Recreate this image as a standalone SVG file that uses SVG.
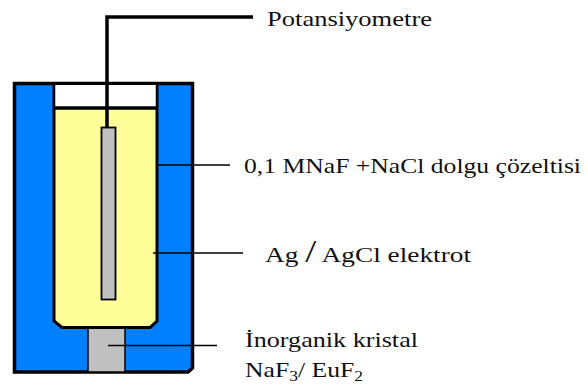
<svg xmlns="http://www.w3.org/2000/svg" width="588" height="387" viewBox="0 0 588 387">
<style>
text{font-family:"Liberation Serif","Times New Roman",serif;font-size:22px;fill:#111}
.s{stroke:#000;fill:none}
</style>
<rect width="588" height="387" fill="#fff"/>
<g id="outer-vessel"><path d="M14.500 83.500H192.500V368L188 372H14.500Z" fill="#0080ff" stroke="#000" stroke-width="3.500"/></g>
<g id="crystal"><rect x="88" y="327" width="37" height="45" fill="#c0c0c0" stroke="#000" stroke-width="1.500"/></g>
<g id="inner-tube">
<path d="M54 83.500V321L62 327.500H150L157 321V83.500Z" fill="#ffff99" stroke="#000" stroke-width="3"/>
<rect x="55.500" y="85" width="100" height="23" fill="#fff"/>
<path class="s" d="M54 108H157" stroke-width="3.500"/>
</g>
<g id="electrode"><rect x="101.500" y="127.500" width="14" height="172" fill="#c0c0c0" stroke="#000" stroke-width="1.800"/></g>
<g id="connectors">
<path class="s" d="M253 17H107V127" stroke-width="3.500"/>
<path class="s" d="M157 165H230" stroke-width="1.500"/>
<path class="s" d="M153 253H243" stroke-width="1.500"/>
<path class="s" d="M108 345.500H217" stroke-width="1.500"/>
</g>
<g id="label-potansiyometre"><text x="267" y="26" textLength="165" lengthAdjust="spacingAndGlyphs">Potansiyometre</text></g>
<g id="label-solution"><text x="244" y="173" textLength="337" lengthAdjust="spacingAndGlyphs">0,1 MNaF +NaCl dolgu çözeltisi</text></g>
<g id="label-electrode"><text x="265" y="262" textLength="206" lengthAdjust="spacingAndGlyphs">Ag <tspan font-size="32">/</tspan> AgCl elektrot</text></g>
<g id="label-crystal">
<text x="245" y="347" textLength="173" lengthAdjust="spacingAndGlyphs">İnorganik kristal</text>
<text x="245" y="377" textLength="118" lengthAdjust="spacingAndGlyphs">NaF<tspan font-size="15" dy="4">3</tspan><tspan dy="-4">/ EuF</tspan><tspan font-size="15" dy="4">2</tspan></text>
</g>
</svg>
